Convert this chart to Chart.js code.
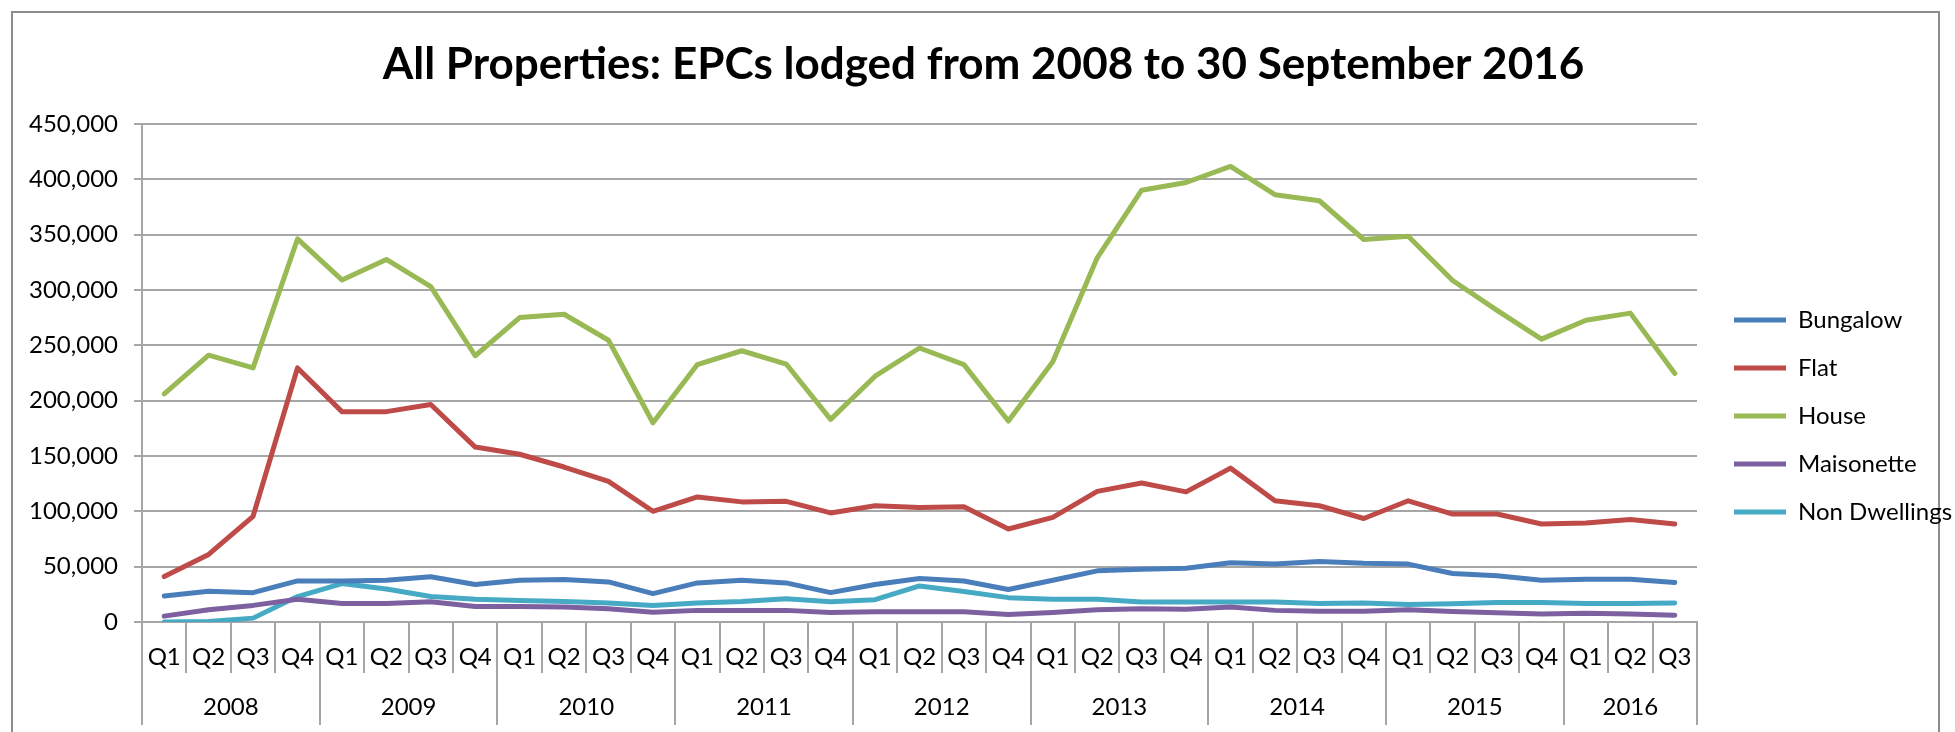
<!DOCTYPE html>
<html>
<head>
<meta charset="utf-8">
<script src="https://cdn.jsdelivr.net/npm/chart.js@4.4.1/dist/chart.umd.min.js"></script>
<style>
    html, body { margin: 0; padding: 0; background: #fff; }
    #wrap { width: 1955px; height: 732px; position: relative; }
</style>
</head>
<body>
<div id="wrap"><canvas id="epcLineChart"></canvas></div>
<script>
// quarters and years for the two level x axis
const years = ['2008', '2009', '2010', '2011', '2012', '2013', '2014', '2015', '2016'];
const quartersPerYear = [4, 4, 4, 4, 4, 4, 4, 4, 3];
const quarterNames = ['Q1', 'Q2', 'Q3', 'Q4'];
const yTicks = [0, 50000, 100000, 150000, 200000, 250000, 300000, 350000, 400000, 450000];

// EPCs lodged per quarter
const bungalow = [23500, 27700, 26500, 37100, 37100, 37700, 40800, 33800, 37700, 38400, 36200, 25600,
    35300, 37700, 35300, 26500, 33800, 39200, 37100, 29300, 37700, 46200, 47700, 48600,
    53500, 52300, 54700, 53000, 52300, 43800, 41700, 37700, 38600, 38600, 35600];
const flat = [41000, 61000, 95500, 229500, 190000, 190000, 196500, 158000, 151500, 140000, 127000, 100000,
    113000, 108500, 109000, 98500, 105000, 103500, 104000, 84000, 94500, 118000, 125500, 117500,
    139000, 109500, 105000, 93500, 109500, 97500, 97500, 88500, 89500, 92500, 88500];
const house = [206000, 241000, 229500, 346000, 309000, 327500, 303000, 240500, 275000, 278000, 254500, 180000,
    232500, 245000, 233000, 183000, 222000, 247500, 232500, 181500, 235000, 329000, 390000, 397000,
    411500, 386000, 380500, 345500, 348500, 308500, 281500, 255500, 272500, 279000, 224500];
const maisonette = [5300, 11000, 15000, 20500, 16800, 16800, 18300, 14000, 14000, 13500, 12000, 8900,
    10500, 10500, 10500, 8600, 9300, 9300, 9300, 6800, 8600, 11000, 12000, 11500,
    13500, 10500, 9800, 9800, 11000, 9500, 8300, 7300, 8000, 7300, 6100];
const nonDwellings = [0, 500, 3500, 23000, 34700, 29800, 23000, 20500, 19500, 18600, 17100, 15000,
    17100, 18600, 21100, 18300, 20200, 32600, 27500, 22000, 20500, 20500, 18000, 18000,
    18000, 18000, 16800, 17100, 15900, 16500, 17700, 17700, 16800, 16800, 17100];

(function(){
    let gridColor = '#a6a6a6';
    let txtFont = { family: 'Lato', size: 24 };

    // quarter labels + year group positions (in category index units)
    let labels = [];
    let yearCenters = {};
    let yearBounds = [-0.5];
    let idx = 0;
    years.forEach(function(y, i){
        let n = quartersPerYear[i];
        for(let q = 0; q < n; q++){
            labels.push(quarterNames[q]);
        }
        yearCenters[(idx + (n - 1) / 2).toFixed(1)] = y;
        idx += n;
        yearBounds.push(idx - 0.5);
    });
    let yearTicks = yearBounds.concat(Object.keys(yearCenters).map(Number)).sort((a, b) => a - b);
    let isBound = (v) => yearBounds.indexOf(v) > -1;

    let series = [
        { label: 'Bungalow', data: bungalow, color: '#4a7ebb' },
        { label: 'Flat', data: flat, color: '#be4b48' },
        { label: 'House', data: house, color: '#98b954' },
        { label: 'Maisonette', data: maisonette, color: '#7d60a0' },
        { label: 'Non Dwellings', data: nonDwellings, color: '#46aac5' }
    ];
    let datasets = series.map(function(s){
        return {
            label: s.label,
            data: s.data,
            borderColor: s.color,
            backgroundColor: s.color,
            borderWidth: 5,
            borderCapStyle: 'round',
            borderJoinStyle: 'round',
            pointRadius: 0,
            tension: 0,
            fill: false
        };
    });

    const legendWidth = 258;
    const frameAndLegend = {
        id: 'frameAndLegend',
        afterInit(chart){
            // fixed legend width so the plot ends where the reference does
            let legend = chart.legend;
            let fit = legend.fit;
            legend.fit = function(){
                fit.call(this);
                this.width = legendWidth;
            };
        },
        afterLayout(chart){
            let legend = chart.legend;
            legend.left += 13; legend.right += 13;
            legend.top += 44; legend.bottom += 44;
        },
        beforeDraw(chart){
            let ctx = chart.ctx;
            ctx.save();
            ctx.strokeStyle = '#8c8c8c';
            ctx.lineWidth = 2;
            ctx.strokeRect(12, 12, 1927, 800);
            ctx.restore();
        }
    };

    Chart.defaults.color = '#000';
    Chart.defaults.font.family = 'Lato';

    let ctx = document.getElementById('epcLineChart').getContext('2d');
    new Chart(ctx, {
        type: 'line',
        data: {
            labels: labels,
            datasets: datasets
        },
        options: {
            responsive: true,
            maintainAspectRatio: false,
            animation: false,
            layout: {
                padding: { left: 12, top: 12, right: 0, bottom: 0 }
            },
            plugins: {
                title: {
                    display: true,
                    text: 'All Properties: EPCs lodged from 2008 to 30 September 2016',
                    color: '#000',
                    font: { family: 'Lato', size: 44, weight: 'bold', lineHeight: 1.2 },
                    padding: { top: 26, bottom: 33 }
                },
                legend: {
                    display: true,
                    position: 'right',
                    align: 'center',
                    labels: {
                        usePointStyle: true,
                        pointStyle: 'line',
                        pointStyleWidth: 52,
                        padding: 24,
                        color: '#000',
                        font: txtFont
                    }
                },
                tooltip: { enabled: false }
            },
            scales: {
                x: {
                    type: 'category',
                    offset: true,
                    weight: 0,
                    grid: {
                        offset: true,
                        drawOnChartArea: false,
                        drawTicks: true,
                        tickLength: 51,
                        color: gridColor,
                        lineWidth: 2
                    },
                    border: { display: true, color: gridColor, width: 2 },
                    ticks: {
                        padding: -30,
                        autoSkip: false,
                        maxRotation: 0,
                        color: '#000',
                        font: txtFont
                    },
                    afterFit(scale){
                        scale.height = 51;
                    }
                },
                x2: {
                    type: 'linear',
                    position: 'bottom',
                    weight: 1,
                    min: -0.5,
                    max: 34.5,
                    afterBuildTicks(scale){
                        scale.ticks = yearTicks.map(v => ({ value: v }));
                    },
                    grid: {
                        drawOnChartArea: false,
                        drawTicks: true,
                        tickLength: 52,
                        lineWidth: 2,
                        color: (c) => (c.tick && isBound(c.tick.value)) ? gridColor : 'rgba(0,0,0,0)'
                    },
                    border: { display: false },
                    ticks: {
                        padding: -32,
                        autoSkip: false,
                        maxRotation: 0,
                        color: '#000',
                        font: txtFont,
                        callback: (v) => yearCenters[Number(v).toFixed(1)] || ''
                    },
                    afterFit(scale){
                        scale.height = 59;
                    }
                },
                y: {
                    min: 0,
                    max: 450000,
                    afterBuildTicks(scale){
                        scale.ticks = yTicks.map(v => ({ value: v }));
                    },
                    ticks: {
                        padding: 16,
                        color: '#000',
                        font: txtFont,
                        callback: (v) => Number(v).toLocaleString('en-US')
                    },
                    grid: {
                        color: gridColor,
                        lineWidth: 2,
                        tickLength: 8
                    },
                    border: { color: gridColor, width: 2 },
                    afterFit(scale){
                        scale.width = 130;
                    }
                }
            }
        },
        plugins: [frameAndLegend]
    });
})();
</script>
</body>
</html>
